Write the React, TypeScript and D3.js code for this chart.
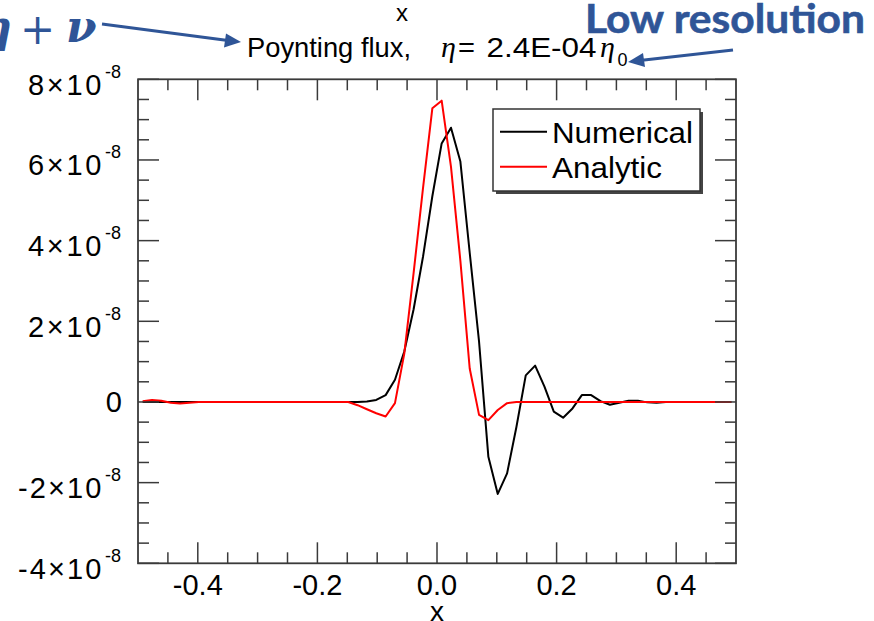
import React from "react";
import * as d3 from "d3";

// Grid coordinates (cell centres, 64 cells on [-0.5, 0.5])
const xValues = [
  -0.4922, -0.4766, -0.4609, -0.4453, -0.4297, -0.4141, -0.3984, -0.3828,
  -0.3672, -0.3516, -0.3359, -0.3203, -0.3047, -0.2891, -0.2734, -0.2578,
  -0.2422, -0.2266, -0.2109, -0.1953, -0.1797, -0.1641, -0.1484, -0.1328,
  -0.1172, -0.1016, -0.0859, -0.0703, -0.0547, -0.0391, -0.0234, -0.0078,
  0.0078, 0.0234, 0.0391, 0.0547, 0.0703, 0.0859, 0.1016, 0.1172,
  0.1328, 0.1484, 0.1641, 0.1797, 0.1953, 0.2109, 0.2266, 0.2422,
  0.2578, 0.2734, 0.2891, 0.3047, 0.3203, 0.3359, 0.3516, 0.3672,
  0.3828, 0.3984, 0.4141, 0.4297, 0.4453, 0.4609, 0.4766, 0.4922,
];

// Poynting flux values in units of 1e-8
const numerical = [
  0, 0, 0, 0, 0, 0, 0, 0, 0, 0, 0, 0, 0, 0, 0, 0, 0, 0, 0, 0, 0, 0, 0, 0,
  0.01, 0.05, 0.17, 0.55, 1.25, 2.3, 3.6, 5.1, 6.41, 6.8, 5.96, 3.7, 1.5,
  -1.36, -2.28, -1.77, -0.62, 0.66, 0.9, 0.38, -0.24, -0.39, -0.16, 0.17,
  0.17, 0.02, -0.07, -0.02, 0.03, 0.03, -0.01, -0.02,
  0, 0, 0, 0, 0, 0, 0, 0,
];

const analytic = [
  0.02, 0.05, 0.03, -0.02, -0.04, -0.02,
  0, 0, 0, 0, 0, 0, 0, 0, 0, 0, 0, 0, 0, 0, 0, 0, 0,
  -0.08, -0.18, -0.28, -0.36, -0.03, 1.2, 3.2, 5.3, 7.28, 7.47, 5.83, 3.5,
  0.83, -0.32, -0.45, -0.2, -0.03,
  0, 0, 0, 0, 0, 0, 0, 0, 0, 0, 0, 0, 0, 0, 0, 0, 0, 0, 0, 0, 0, 0, 0, 0,
];

const xMajorTicks = [-0.4, -0.2, 0.0, 0.2, 0.4];
const xMajorLabels = ["-0.4", "-0.2", "0.0", "0.2", "0.4"];
const xMinorTicks = [-0.45, -0.35, -0.3, -0.25, -0.15, -0.1, -0.05, 0.05, 0.1, 0.15, 0.25, 0.3, 0.35, 0.45];
const yMajorTicks = [-4, -2, 0, 2, 4, 6, 8];
const yMajorMantissa = ["-4", "-2", "0", "2", "4", "6", "8"];
const yExponent = "-8";
const yMinorTicks = [-3.5, -3, -2.5, -1.5, -1, -0.5, 0.5, 1, 1.5, 2.5, 3, 3.5, 4.5, 5, 5.5, 6.5, 7, 7.5];

const seriesNames = ["Numerical", "Analytic"];
const seriesColors = ["#000000", "#ff0000"];

const FONT = "'Liberation Sans', Arial, Helvetica, sans-serif";
const SERIF = "'Liberation Serif', 'Times New Roman', serif";
const BLUE = "#2f5597";

export default function App() {
  const left = 138, right = 736, top = 79.3, bottom = 563.3;
  const x = d3.scaleLinear().domain([-0.5, 0.5]).range([left, right]);
  const y = d3.scaleLinear().domain([-4, 8]).range([bottom, top]);
  const line = d3
    .line<number>()
    .x((_, i) => x(xValues[i]))
    .y((d) => y(d));

  const majorLen = 21, minorLen = 11;
  const axisColor = "#3a3a3a";

  return (
    <svg
      width={874}
      height={621}
      style={{ position: "absolute", left: 0, top: 0, background: "#fff" }}
      fontFamily={FONT}
    >
      <rect x={0} y={0} width={874} height={621} fill="#fff" />

      {/* annotations */}
      <g fill={BLUE} fontFamily="'DejaVu Serif', 'Liberation Serif', serif" fontStyle="italic" fontWeight="bold">
        <text x={12} y={42} fontSize={44} textAnchor="end">η</text>
        <text x={37.5} y={44} fontSize={42} textAnchor="middle" fontStyle="normal" fontWeight="normal">+</text>
        <text x={66} y={42} fontSize={44}>ν</text>
      </g>
      <text x={585} y={33} fontSize={40} fontWeight="bold" fill={BLUE} stroke={BLUE} strokeWidth={0.6} fontFamily="Lato, 'Open Sans', sans-serif" textLength={280} lengthAdjust="spacingAndGlyphs">
        Low resolution
      </text>
      <g stroke={BLUE} strokeWidth={3} fill={BLUE}>
        <line x1={102} y1={24} x2={228} y2={40.4} />
        <polygon points="241,42 226,33.5 224,47.5" stroke="none" />
        <line x1={733} y1={50} x2={642} y2={60.3} />
        <polygon points="628,62 643,53 645,67" stroke="none" />
      </g>

      {/* top "x" and title */}
      <text x={402} y={21} fontSize={24} textAnchor="middle">x</text>
      <g fontSize={28}>
        <text x={247} y={57} textLength={164} lengthAdjust="spacingAndGlyphs">Poynting flux,</text>
        <text x={441} y={57} fontSize={30} fontFamily={SERIF} fontStyle="italic">η</text>
        <text x={458} y={57} textLength={17} lengthAdjust="spacingAndGlyphs">=</text>
        <text x={486.5} y={57} textLength={110} lengthAdjust="spacingAndGlyphs">2.4E-04</text>
        <text x={600} y={57} fontSize={30} fontFamily={SERIF} fontStyle="italic">η</text>
        <text x={617.5} y={66} fontSize={18}>0</text>
      </g>

      {/* data */}
      <g fill="none" strokeWidth={2} strokeLinejoin="round">
        <path d={line(numerical) || ""} stroke={seriesColors[0]} />
        <path d={line(analytic) || ""} stroke={seriesColors[1]} />
      </g>

      {/* axes frame */}
      <rect x={left} y={top} width={right - left} height={bottom - top} fill="none" stroke={axisColor} strokeWidth={1.8} />

      {/* ticks */}
      <g stroke={axisColor} strokeWidth={1.5}>
        {xMajorTicks.map((t) => (
          <g key={"xM" + t}>
            <line x1={x(t)} x2={x(t)} y1={bottom} y2={bottom - majorLen} />
            <line x1={x(t)} x2={x(t)} y1={top} y2={top + majorLen} />
          </g>
        ))}
        {xMinorTicks.map((t) => (
          <g key={"xm" + t}>
            <line x1={x(t)} x2={x(t)} y1={bottom} y2={bottom - minorLen} />
            <line x1={x(t)} x2={x(t)} y1={top} y2={top + minorLen} />
          </g>
        ))}
        {yMajorTicks.map((t) => (
          <g key={"yM" + t}>
            <line x1={left} x2={left + majorLen} y1={y(t)} y2={y(t)} />
            <line x1={right} x2={right - majorLen} y1={y(t)} y2={y(t)} />
          </g>
        ))}
        {yMinorTicks.map((t) => (
          <g key={"ym" + t}>
            <line x1={left} x2={left + minorLen} y1={y(t)} y2={y(t)} />
            <line x1={right} x2={right - minorLen} y1={y(t)} y2={y(t)} />
          </g>
        ))}
      </g>

      {/* x tick labels */}
      <g fontSize={29} textAnchor="middle">
        {xMajorTicks.map((t, i) => (
          <text key={"xl" + t} x={x(t)} y={595}>{xMajorLabels[i]}</text>
        ))}
      </g>
      <text x={437} y={621} fontSize={28} textAnchor="middle">x</text>

      {/* y tick labels */}
      <g fontSize={29}>
        {yMajorTicks.map((t, i) =>
          t === 0 ? (
            <text key={"yl" + t} x={122} y={y(t) + 10.5} textAnchor="end">0</text>
          ) : (
            <g key={"yl" + t}>
              <text
                x={yMajorMantissa[i].startsWith("-") ? 18 : 28}
                y={y(t) + 15.5}
                textLength={yMajorMantissa[i].startsWith("-") ? 83.5 : 73.5}
                lengthAdjust="spacing"
              >
                {yMajorMantissa[i] + "×10"}
              </text>
              <text x={105} y={y(t) - 1.5} fontSize={18}>{yExponent}</text>
            </g>
          )
        )}
      </g>

      {/* legend */}
      <rect x={496} y={112} width={207} height={82} fill="#444" />
      <rect x={493} y={109} width={207} height={82} fill="#fff" stroke="#333" strokeWidth={1.5} />
      {seriesNames.map((name, i) => (
        <g key={name}>
          <line x1={500} x2={547} y1={131.7 + i * 35} y2={131.7 + i * 35} stroke={seriesColors[i]} strokeWidth={2} />
          <text x={552} y={143 + i * 34.5} fontSize={30} textLength={i === 0 ? 141 : 110} lengthAdjust="spacingAndGlyphs">{name}</text>
        </g>
      ))}
    </svg>
  );
}
